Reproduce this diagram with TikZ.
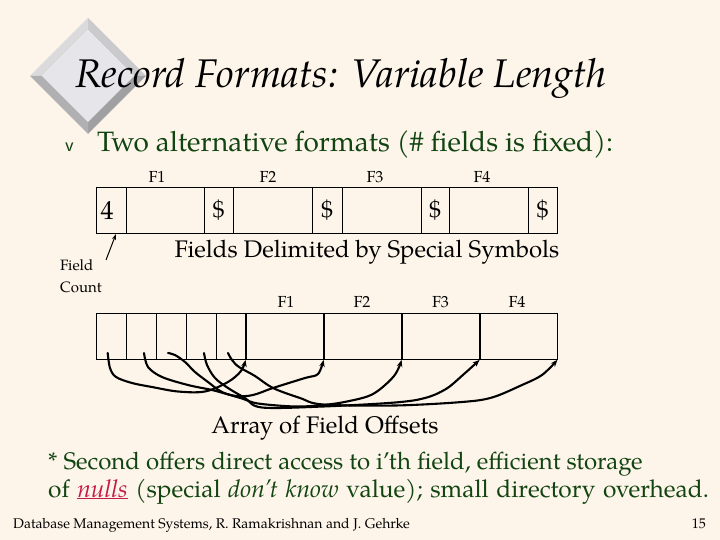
\documentclass[tikz,border=0pt]{standalone}
\usepackage{fontspec}
\setmainfont{TeX Gyre Pagella}
\usetikzlibrary{arrows.meta}
\definecolor{bgcream}{RGB}{253,245,233}
\definecolor{txtgreen}{RGB}{18,68,18}
\definecolor{nullred}{RGB}{196,28,72}
\definecolor{dmA}{RGB}{218,218,220}
\definecolor{dmB}{RGB}{202,202,204}
\definecolor{dmC}{RGB}{176,176,178}
\definecolor{dmD}{RGB}{160,160,162}
\definecolor{dmIn}{RGB}{230,230,234}
\tikzset{
  cell/.style={draw=black, line width=0.8pt, inner sep=0pt, minimum height=46pt, font=\fontsize{24}{26}\selectfont},
  ocell/.style={draw=black, line width=0.8pt, inner sep=0pt, minimum height=46.5pt},
  flabel/.style={inner sep=0pt, font=\fontsize{16}{18}\selectfont},
  smlabel/.style={inner sep=0pt, font=\fontsize{15}{17}\selectfont},
  bigtxt/.style={inner sep=0pt, font=\fontsize{24}{26}\selectfont},
  ptr/.style={line width=2.1pt, line cap=round, line join=round, -{Stealth[length=7pt,width=5.5pt]}},
  thinptr/.style={line width=1pt, -{Stealth[length=6pt,width=4pt]}},
}
\begin{document}
\begin{tikzpicture}[x=1pt,y=-1pt]
\useasboundingbox (0,0) rectangle (720,540);
\fill[bgcream] (0,0) rectangle (720,540);
% bevelled diamond
\coordinate (dT) at (88,18);  \coordinate (dR) at (146,76);
\coordinate (dB) at (88,134); \coordinate (dL) at (30,76);
\coordinate (it) at (88,30);  \coordinate (ir) at (134,76);
\coordinate (ib) at (88,122); \coordinate (il) at (42,76);
\fill[dmA] (dL) -- (dT) -- (it) -- (il) -- cycle;
\fill[dmB] (dT) -- (dR) -- (ir) -- (it) -- cycle;
\fill[dmD] (dR) -- (dB) -- (ib) -- (ir) -- cycle;
\fill[dmC] (dB) -- (dL) -- (il) -- (ib) -- cycle;
\fill[dmIn] (it) -- (ir) -- (ib) -- (il) -- cycle;
% title
\node[anchor=base west, inner sep=0pt, font=\fontsize{40}{44}\selectfont\itshape] (title) at (75,88) {Record Formats: Variable Length};
% bullet
\node[anchor=base west, inner sep=0pt, text=txtgreen, font=\fontsize{20}{22}\selectfont\sffamily] (bul) at (65,152) {v};
\node[anchor=base west, inner sep=0pt, text=txtgreen, font=\fontsize{28}{30}\selectfont] (b1) at (97,152) {Two alternative formats (\# fields is fixed):};
% top record
\node[cell, minimum width=30pt]   (t0) at (111,210)   {};
\node[cell, minimum width=78pt]   (t1) at (165,210)   {};
\node[cell, minimum width=29pt]   (t2) at (218.5,210) {\$};
\node[cell, minimum width=79pt]   (t3) at (272.5,210) {};
\node[cell, minimum width=30pt]   (t4) at (327,210)   {\$};
\node[cell, minimum width=79pt]   (t5) at (381.5,210) {};
\node[cell, minimum width=28pt]   (t6) at (435,210)   {\$};
\node[cell, minimum width=79pt]   (t7) at (488.5,210) {};
\node[cell, minimum width=29pt]   (t8) at (542.5,210) {\$};
\node[inner sep=0pt, anchor=base, font=\fontsize{26}{28}\selectfont] (four) at (107,219) {4};
\node[flabel] (tf1) at (157,177) {F1};
\node[flabel] (tf2) at (268,177) {F2};
\node[flabel] (tf3) at (375,177) {F3};
\node[flabel] (tf4) at (482,177) {F4};
\node[bigtxt, anchor=base] (delim) at (367,257) {Fields Delimited by Special Symbols};
% field count
\node[smlabel, anchor=base west] (fld) at (60,270) {Field};
\node[smlabel, anchor=base west] (cnt) at (60,292) {Count};
\coordinate (fctail) at (106,260);
\coordinate (fchead) at (116,234);
\draw[thinptr] (fctail) -- (fchead);
% bottom record
\node[ocell, minimum width=29.9pt] (o1) at (111.45,336.25) {};
\node[ocell, minimum width=29.9pt] (o2) at (141.35,336.25) {};
\node[ocell, minimum width=29.9pt] (o3) at (171.25,336.25) {};
\node[ocell, minimum width=29.9pt] (o4) at (201.15,336.25) {};
\node[ocell, minimum width=29.9pt] (o5) at (231.05,336.25) {};
\node[ocell, minimum width=78pt]   (g1) at (285,336.25) {};
\node[ocell, minimum width=78pt]   (g2) at (363,336.25) {};
\node[ocell, minimum width=78pt]   (g3) at (441,336.25) {};
\node[ocell, minimum width=77pt]   (g4) at (518.5,336.25) {};
\node[flabel] (bf1) at (286,302) {F1};
\node[flabel] (bf2) at (362,302) {F2};
\node[flabel] (bf3) at (440.5,302) {F3};
\node[flabel] (bf4) at (517,302) {F4};
\draw[line width=1.3pt] (g1.north west) -- (g1.south west);
\draw[line width=1.3pt] (g2.north west) -- (g2.south west);
\draw[line width=1.3pt] (g3.north west) -- (g3.south west);
\draw[line width=1.3pt] (g4.north west) -- (g4.south west);
% pointers
\coordinate (s1) at (107.7,353);
\coordinate (s2) at (144,353);
\coordinate (s3) at (168,353);
\coordinate (s4) at (204,353);
\coordinate (s5) at (228,353);
\coordinate (e1) at (g1.south west);
\coordinate (e2) at (g2.south west);
\coordinate (e3) at (g3.south west);
\coordinate (e4) at (g4.south west);
\coordinate (e5) at (g4.south east);
\draw[ptr] plot[smooth, tension=0.55] coordinates {(s1) (110,368) (116,377) (132,383) (152,387) (178,391.5) (205,391.5) (228,382) (241,371) (e1)};
\draw[ptr] plot[smooth, tension=0.55] coordinates {(s2) (148,367) (162,377) (188,385) (212,390) (236,396) (253,395) (273,388) (305,378) (318,374) (e2)};
\draw[ptr] plot[smooth, tension=0.55] coordinates {(s3) (175,355) (185,362) (195,372) (208,382) (222,392) (242,398.5) (258,403.5) (295,406.5) (323,405) (347,401.5) (373,394) (394,376) (e3)};
\draw[ptr] plot[smooth, tension=0.55] coordinates {(s4) (207,365) (215,378) (228,388) (245,398) (262,407.5) (323,406.5) (395,402.5) (425,398) (446,389) (464,374) (e4)};
\draw[ptr] plot[smooth, tension=0.55] coordinates {(s5) (232,360) (239,367) (255,376) (273,388) (300,398) (323,404.5) (395,405.5) (462,402) (492,397.5) (522,385) (542,375) (e5)};
\node[bigtxt, anchor=base] (arr) at (325,433) {Array of Field Offsets};
% bottom text
\node[anchor=base west, inner sep=0pt, text=txtgreen, font=\fontsize{24}{26}\selectfont] (n1) at (48,469) {* Second offers direct access to i’th field, efficient storage};
\node[anchor=base west, inner sep=0pt, text=txtgreen, font=\fontsize{24.5}{26}\selectfont] (n2) at (48,497) {\spaceskip=7.6pt of \textcolor{nullred}{\underline{\textit{nulls}}} (special \textit{don’t know} value); small directory overhead.};
% footer
\node[anchor=base west, inner sep=0pt, font=\fontsize{14}{16}\selectfont] (foot) at (13,528) {Database Management Systems, R. Ramakrishnan and J. Gehrke};
\node[anchor=base east, inner sep=0pt, font=\fontsize{14}{16}\selectfont] (pg) at (706,528) {15};
\end{tikzpicture}
\end{document}
